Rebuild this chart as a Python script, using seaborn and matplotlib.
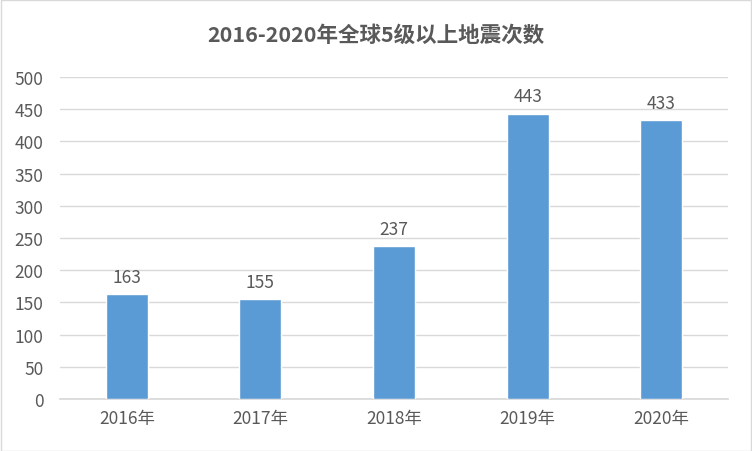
import matplotlib
matplotlib.use("Agg")
import matplotlib.pyplot as plt
import seaborn as sns
import pandas as pd

# Data
years = ['2016年', '2017年', '2018年', '2019年', '2020年']
counts = [163, 155, 237, 443, 433]
title = '2016-2020年全球5级以上地震次数'

sns.set_theme(style="white")
plt.rcParams['font.family'] = ['Noto Sans CJK SC', 'DejaVu Sans']

text_color = '#595959'
grid_color = '#D9D9D9'
bar_color = '#5B9BD5'

df = pd.DataFrame({'year': years, 'count': counts})

fig = plt.figure(figsize=(7.52, 4.52), dpi=100)
ax = fig.add_axes([60 / 752, 1 - 400 / 452, 668 / 752, 322 / 452])

sns.barplot(data=df, x='year', y='count', color=bar_color, width=0.315,
            saturation=1, ax=ax, zorder=3)

ax.set_ylim(0, 500)
ax.set_yticks(range(0, 501, 50))
ax.yaxis.grid(True, color=grid_color, linewidth=1)
ax.set_axisbelow(True)
for s in ['top', 'right', 'left']:
    ax.spines[s].set_visible(False)
ax.spines['bottom'].set_color(grid_color)
ax.tick_params(axis='both', length=0, labelsize=12.5, colors=text_color)
ax.tick_params(axis='y', pad=12)
ax.tick_params(axis='x', pad=7)
ax.set_xlabel('')
ax.set_ylabel('')

# value labels
for i, v in enumerate(counts):
    ax.annotate(f"{v}", (i, v), xytext=(0, 6), textcoords='offset points',
                ha='center', va='bottom', fontsize=12.5, color=text_color)

fig.text(0.5, 1 - 35 / 452, title, ha='center', va='center', fontsize=15.5,
         fontweight='bold', color=text_color)

# outer border
fig.patches.append(plt.Rectangle((0.001, 0.001), 0.998, 0.997, transform=fig.transFigure,
                                 fill=False, edgecolor=grid_color, linewidth=1))

fig.savefig('out.png', dpi=100)
